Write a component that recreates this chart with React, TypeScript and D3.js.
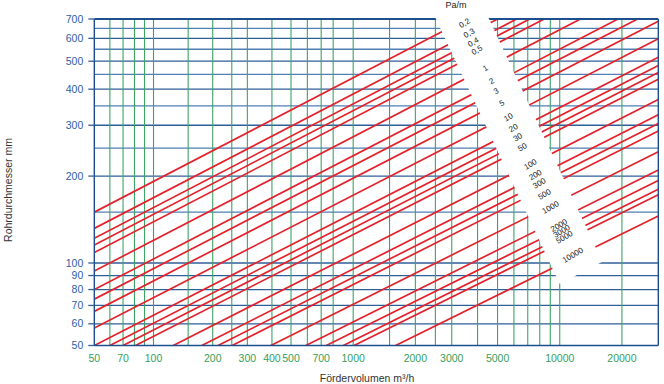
import React from "react";
import * as d3 from "d3";

// ---- data ----
const flowTickLabels = [50, 70, 100, 200, 300, 400, 500, 700, 1000, 2000, 3000, 5000, 10000, 20000];
const flowGrid = [60, 70, 80, 90, 100, 150, 200, 250, 300, 400, 500, 600, 700, 800, 1000, 1500, 2000, 2500, 3000, 4000, 5000, 6000, 7000, 8000, 9000, 10000, 20000];
const diameterTickLabels = [50, 60, 70, 80, 90, 100, 200, 300, 400, 500, 600, 700];
const diameterGrid = [60, 70, 80, 90, 100, 150, 200, 250, 300, 350, 400, 450, 500, 550, 600, 650];
// red lines entering on the left edge (flow = 50): diameter there
const edgeStartDiameters = [150, 131.8, 121.8, 115.4, 108.7, 93.5, 80, 73.8, 66.6, 57.9, 50];
// red lines entering on the bottom edge (diameter = 50): flow there
const floorStartFlows = [60, 70, 81, 126, 176, 213, 251, 395, 590, 741, 896, 1010, 1605];
// common slope of the lines in log-log (d ~ V^k)
const slopeExponent = 0.365;
const pressureLabels = ["0,2", "0,3", "0,4", "0,5", "1", "2", "3", "5", "10", "20", "30", "50", "100", "200", "300", "500", "1000", "2000", "3000", "5000", "10000"];
const pressureLabelDiameters = [678, 626, 583, 547, 474, 427, 394, 358, 320, 294, 273, 252, 220, 202, 189, 173, 156, 135, 129, 123, 106.6];

const W = 664, H = 384;
const left = 94.3, right = 658.3, top = 19, bottom = 345.5;
const flowMin = 50, flowMax = 30000, dMin = 50, dMax = 700;

// the printed chart's log axes are slightly uneven: calibrated at 500 m³/h and 100 mm
const x = d3.scaleLog().domain([flowMin, 500, flowMax]).range([left, 291, right]);
const y = d3.scaleLog().domain([dMin, 100, dMax]).range([bottom, 263, top]);

// white label band geometry (pixel layout)
const bandSlope = 0.467; // dx per dy
const bandLeftAtTop = 436;
const bandWidth = 53;
const bandCenterX = (py: number) => bandLeftAtTop + bandWidth / 2 + bandSlope * (py - top);

const FONT = "Arial, 'Liberation Sans', Helvetica, sans-serif";

export default function App() {
  const redLines: [number, number][][] = [];
  edgeStartDiameters.forEach((d0) => {
    redLines.push([[flowMin, d0], [flowMax, d0 * Math.pow(flowMax / flowMin, slopeExponent)]]);
  });
  floorStartFlows.forEach((v0) => {
    redLines.push([[v0, dMin], [flowMax, dMin * Math.pow(flowMax / v0, slopeExponent)]]);
  });
  const lineGen = d3.line<[number, number]>().x((p) => x(p[0])).y((p) => y(p[1]));

  const bandTopY = 8;
  const bl = (py: number) => bandLeftAtTop + bandSlope * (py - top);
  const bandPoly = [
    [bl(bandTopY), bandTopY],
    [bl(bandTopY) + bandWidth, bandTopY],
    [bl(261.7) + bandWidth, 261.7],
    [559.7, 283.9],
  ];

  return (
    <svg width={W} height={H} style={{ position: "absolute", left: 0, top: 0, background: "#fff" }} fontFamily={FONT}>
      <defs>
        <clipPath id="plot">
          <rect x={left} y={top} width={right - left} height={bottom - top} />
        </clipPath>
      </defs>
      {/* horizontal grid */}
      {diameterGrid.map((d) => (
        <line key={"h" + d} x1={left} x2={right} y1={y(d)} y2={y(d)}
          stroke={diameterTickLabels.includes(d) ? "#2f5f98" : "#4f7fb3"} strokeWidth={1.3} />
      ))}
      {/* vertical grid */}
      {flowGrid.map((v) => (
        <line key={"v" + v} x1={x(v)} x2={x(v)} y1={top} y2={bottom} stroke="#3da465" strokeWidth={1.1} />
      ))}
      {/* red lines */}
      <g clipPath="url(#plot)">
        {redLines.map((pts, i) => (
          <path key={"r" + i} d={lineGen(pts) || ""} stroke="#e3222c" strokeWidth={1.7} fill="none" />
        ))}
      </g>
      {/* frame */}
      <line x1={left} x2={right} y1={top} y2={top} stroke="#1d4f8e" strokeWidth={2.2} />
      <line x1={left} x2={left} y1={top} y2={bottom} stroke="#1d4f8e" strokeWidth={1.4} />
      <line x1={left} x2={right} y1={bottom} y2={bottom} stroke="#1d4f8e" strokeWidth={1.4} />
      <line x1={right} x2={right} y1={top} y2={bottom} stroke="#1d4f8e" strokeWidth={1.4} />
      {/* y ticks */}
      {diameterTickLabels.map((d) => (
        <g key={"yt" + d}>
          <line x1={left - 6} x2={left} y1={y(d)} y2={y(d)} stroke="#2f5f98" strokeWidth={1.3} />
          <text x={left - 11} y={y(d)} dy="0.35em" textAnchor="end" fontSize={10.5} fill="#2c5ea6">{d}</text>
        </g>
      ))}
      {/* x tick labels */}
      {flowTickLabels.map((v) => (
        <text key={"xt" + v} x={x(v)} y={362} textAnchor="middle" fontSize={10.5} fill="#35a05a">{v}</text>
      ))}
      {/* white band with pressure labels */}
      <polygon points={bandPoly.map((p) => p.join(",")).join(" ")} fill="#fff" />
      {pressureLabels.map((lab, i) => {
        const py = y(pressureLabelDiameters[i]);
        const px = bandCenterX(py);
        return (
          <text key={"pl" + i} x={px} y={py} dy="0.35em" textAnchor="middle" fontSize={8} fill="#222"
            transform={`rotate(-30 ${px} ${py})`}>{lab}</text>
        );
      })}
      <text x={456} y={8} textAnchor="middle" fontSize={9} fill="#222">Pa/m</text>
      {/* axis titles */}
      <text x={367} y={382} textAnchor="middle" fontSize={10.5} fill="#333">Fördervolumen m³/h</text>
      <text transform="translate(12,190) rotate(-90)" textAnchor="middle" fontSize={10.5} fill="#333">Rohrdurchmesser mm</text>
    </svg>
  );
}
